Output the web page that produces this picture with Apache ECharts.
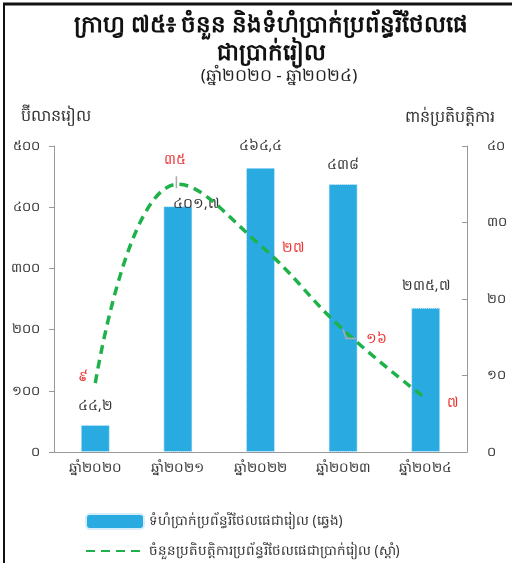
<!DOCTYPE html>
<html><head><meta charset="utf-8">
<script src="https://cdn.jsdelivr.net/npm/echarts@6/dist/echarts.min.js"></script>
<style>html,body{margin:0;padding:0;background:#fff}#c{width:512px;height:563px}</style>
</head><body><div id="c"></div>
<script>
const categories = ['ឆ្នាំ២០២០','ឆ្នាំ២០២១','ឆ្នាំ២០២២','ឆ្នាំ២០២៣','ឆ្នាំ២០២៤'];
const amountValues = [44.2, 401.7, 464.4, 438, 235.7];
const countValues = [9, 35, 27, 16, 7];
const leftTicks = [0, 100, 200, 300, 400, 500];
const rightTicks = [0, 10, 20, 30, 40];
const titleLine1 = 'ក្រាហ្វ ៧៥៖ ចំនួន និងទំហំប្រាក់ប្រព័ន្ធរីថែលផេ';
const titleLine2 = 'ជាប្រាក់រៀល';
const subTitle = '(ឆ្នាំ២០២០ - ឆ្នាំ២០២៤)';
const leftName = 'ប៊ីលានរៀល';
const rightName = 'ពាន់ប្រតិបត្តិការ';
const seriesNames = ['ទំហំប្រាក់ប្រព័ន្ធរីថែលផេជារៀល (ឆ្វេង)', 'ចំនួនប្រតិបត្តិការប្រព័ន្ធរីថែលផេជាប្រាក់រៀល (ស្តាំ)'];

const KD = '០១២៣៤៥៦៧៨៩';
function kh(v){ return String(v).replace('.', ',').replace(/[0-9]/g, d => KD[+d]); }

const FONT = "'Noto Sans', 'DejaVu Sans', sans-serif";
const barLabelOffsets = [[0,0],[18,17],[0,-3],[0,0],[0,-3]];
const lineLabelCfg = [
  {position:'left', offset:[-2,-6]},
  {position:'top', offset:[-3,-12]},
  {position:'right', offset:[16,3]},
  {position:'right', offset:[18,9]},
  {position:'right', offset:[16,5]}
];

const frame = [
  {type:'line', shape:{x1:3,y1:4,x2:512,y2:4}, style:{stroke:'#111', lineWidth:3}},
  {type:'line', shape:{x1:4,y1:3,x2:4,y2:563}, style:{stroke:'#111', lineWidth:2}}
];

const chart = echarts.init(document.getElementById('c'), null, {renderer:'canvas'});
chart.setOption({
  animation:false,
  textStyle:{fontFamily:FONT},
  title:[
    {text:titleLine1+'\n'+titleLine2, left:266, textAlign:'center', top:6,
     textStyle:{fontSize:23, fontWeight:'bold', color:'#111', lineHeight:28, fontFamily:FONT}},
    {text:subTitle, left:274, textAlign:'center', top:63,
     textStyle:{fontSize:17, fontWeight:'normal', color:'#222', fontFamily:FONT}}
  ],
  graphic: frame,
  grid:{left:54, right:45, top:146, bottom:111},
  legend:[
    {left:80, top:508, itemWidth:58, itemHeight:15,
     textStyle:{fontSize:13.5, color:'#333', fontFamily:FONT},
     data:[seriesNames[0]]},
    {left:80, top:539, itemWidth:58, itemHeight:15,
     itemStyle:{opacity:0},
     textStyle:{fontSize:13.5, color:'#333', fontFamily:FONT},
     data:[seriesNames[1]]}
  ],
  xAxis:{
    type:'category', data:categories,
    axisLine:{lineStyle:{color:'#999'}}, axisTick:{lineStyle:{color:'#999'}, length:5},
    axisLabel:{color:'#333', fontSize:13.5, margin:9}
  },
  yAxis:[
    {type:'value', min:0, max:500, interval:100, name:leftName, nameLocation:'end', nameGap:22,
     nameTextStyle:{fontSize:16, color:'#333', align:'center', padding:[0,0,0,4]},
     axisLine:{show:true, lineStyle:{color:'#999'}}, axisTick:{show:true, lineStyle:{color:'#999'}},
     splitLine:{show:false}, axisLabel:{color:'#333', fontSize:13, margin:14, formatter:v=>kh(v)}},
    {type:'value', min:0, max:40, interval:10, name:rightName, nameLocation:'end', nameGap:21,
     nameTextStyle:{fontSize:16, color:'#333', align:'center', padding:[0,0,0,-34]},
     axisLine:{show:true, lineStyle:{color:'#999'}}, axisTick:{show:true, inside:true, lineStyle:{color:'#999'}},
     splitLine:{show:false}, axisLabel:{color:'#333', fontSize:13, margin:20, formatter:v=>kh(v)}}
  ],
  series:[
    {name:seriesNames[0], type:'bar', yAxisIndex:0, barWidth:29,
     itemStyle:{color:'#29abe2', borderColor:'#d6eefa', borderWidth:1, borderType:'dotted'},
     data: amountValues.map((v,i)=>({value:v, label:{offset:barLabelOffsets[i]}})),
     label:{show:true, position:'top', distance:12, color:'#333', fontSize:14, formatter:p=>kh(p.value)}},
    {name:seriesNames[1], type:'line', yAxisIndex:1, smooth:0.45, symbol:'circle', symbolSize:0.1, showSymbol:true,
     lineStyle:{color:'#1fb14a', width:3.5, type:[9,6]},
     itemStyle:{color:'#1fb14a'},
     data: countValues.map((v,i)=>({value:v,
        label:{show:true, position:lineLabelCfg[i].position, offset:lineLabelCfg[i].offset}})),
     label:{show:true, color:'#ee3333', fontSize:14, formatter:p=>kh(p.value)}}
  ]
});

// leader lines anchored to data points via the chart's own scales
const pA = chart.convertToPixel({xAxisIndex:0, yAxisIndex:1}, [categories[1], countValues[1]]);
const pB = chart.convertToPixel({xAxisIndex:0, yAxisIndex:1}, [categories[3], countValues[3]]);
chart.setOption({graphic: frame.concat([
  {type:'polyline', z:100, shape:{points:[[pA[0]-1.5, pA[1]-8],[pA[0]-1.5, pA[1]+4]]}, style:{stroke:'#aaa', lineWidth:1.5, fill:null}},
  {type:'polyline', z:100, shape:{points:[[pB[0], pB[1]],[pB[0]+3, pB[1]+9],[pB[0]+13, pB[1]+9]]}, style:{stroke:'#aaa', lineWidth:1.5, fill:null}}
])});
</script></body></html>
